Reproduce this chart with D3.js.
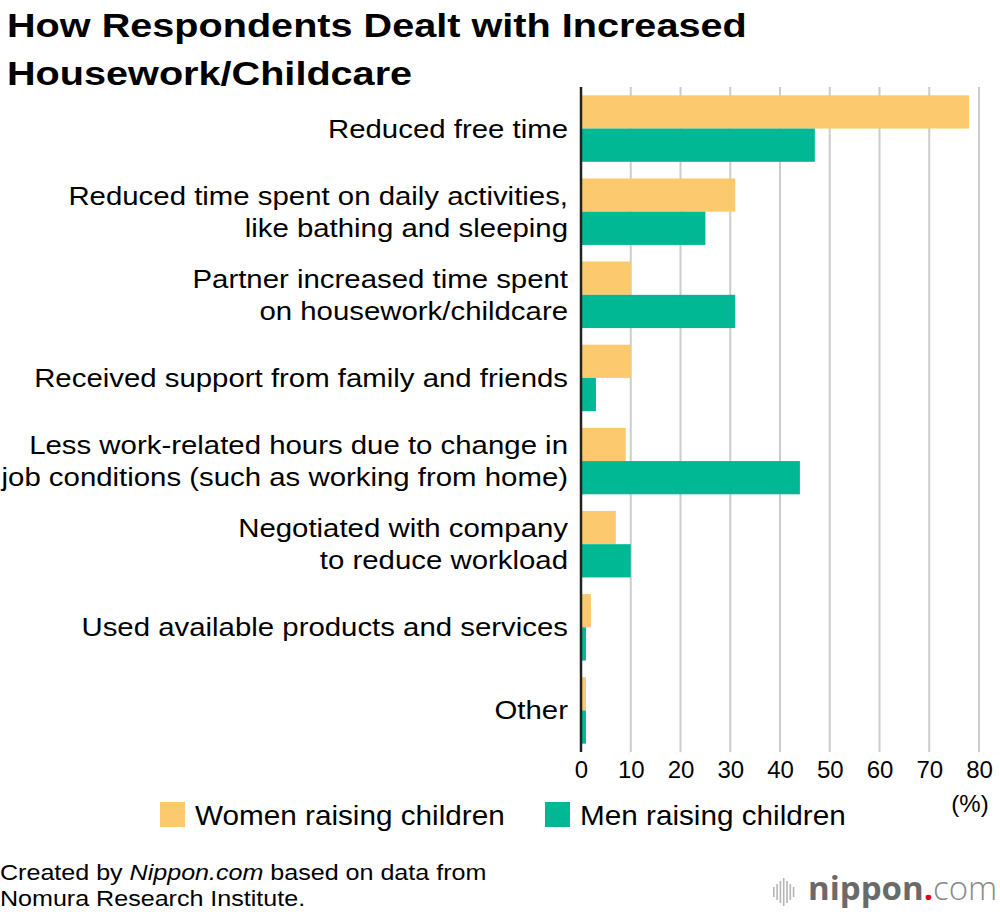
<!DOCTYPE html>
<html>
<head>
<meta charset="utf-8">
<script src="https://cdn.jsdelivr.net/npm/d3@7"></script>
<style>
  body { margin: 0; background: #fff; }
  svg { font-family: "Liberation Sans", Arial, sans-serif; }
</style>
</head>
<body>
<div id="chart"></div>
<script>
const categories = [
  ['Reduced free time'],
  ['Reduced time spent on daily activities,', 'like bathing and sleeping'],
  ['Partner increased time spent', 'on housework/childcare'],
  ['Received support from family and friends'],
  ['Less work-related hours due to change in', 'job conditions (such as working from home)'],
  ['Negotiated with company', 'to reduce workload'],
  ['Used available products and services'],
  ['Other']
];
const women = [78, 31, 10, 10, 9, 7, 2, 1];
const men = [47, 25, 31, 3, 44, 10, 1, 1];
const ticks = [0, 10, 20, 30, 40, 50, 60, 70, 80];
const seriesNames = ['Women raising children', 'Men raising children'];
const colors = ['#FDC96E', '#00B894'];

const W = 1000, H = 918;
const svg = d3.select('#chart').append('svg').attr('width', W).attr('height', H);

const x = d3.scaleLinear().domain([0, 80]).range([581, 979]);
const y = d3.scaleBand().domain(d3.range(categories.length)).range([87, 752])
  .paddingInner(0.2).paddingOuter(0.1);
const half = y.bandwidth() / 2;

// the original type is a wide Helvetica, so stretch text horizontally
const wide = (px, sx) => `translate(${px},0) scale(${sx},1)`;

// title
const title = svg.append('g').attr('transform', wide(7, 1.166));
['How Respondents Dealt with Increased', 'Housework/Childcare'].forEach((t, i) => {
  title.append('text').attr('x', 0).attr('y', 37 + i * 48)
    .style('font-size', '34px').style('font-weight', 'bold')
    .text(t);
});

// grid
svg.append('g').selectAll('line').data(ticks.slice(1)).enter().append('line')
  .attr('x1', d => x(d)).attr('x2', d => x(d))
  .attr('y1', 87).attr('y2', 752)
  .attr('stroke', '#ccc').attr('stroke-width', 2);

// bars
const rows = svg.append('g').selectAll('g').data(categories).enter().append('g');
rows.append('rect')
  .attr('x', x(0)).attr('y', (d, i) => y(i))
  .attr('width', (d, i) => x(women[i]) - x(0)).attr('height', half)
  .attr('fill', colors[0]);
rows.append('rect')
  .attr('x', x(0)).attr('y', (d, i) => y(i) + half)
  .attr('width', (d, i) => x(men[i]) - x(0)).attr('height', half)
  .attr('fill', colors[1]);

// category labels
rows.append('g').attr('transform', wide(568, 1.13))
  .append('text')
  .attr('text-anchor', 'end')
  .style('font-size', '26px')
  .each(function (d, i) {
    const cy = y(i) + half;
    const t = d3.select(this);
    d.forEach((line, j) => {
      t.append('tspan').attr('x', 0)
        .attr('y', cy + 9 + (j - (d.length - 1) / 2) * 32)
        .text(line);
    });
  });

// zero line
svg.append('line').attr('x1', x(0)).attr('x2', x(0)).attr('y1', 87).attr('y2', 752)
  .attr('stroke', '#222').attr('stroke-width', 2.5);

// x axis labels
const xAxis = svg.append('g').attr('transform', 'translate(0,752)')
  .call(d3.axisBottom(x).tickValues(ticks).tickSize(0).tickPadding(9));
xAxis.select('.domain').remove();
xAxis.selectAll('text').style('font-size', '24px')
  .style('font-family', '"Liberation Sans", Arial, sans-serif').attr('fill', '#000');

svg.append('text').attr('x', 970).attr('y', 812).attr('text-anchor', 'middle')
  .style('font-size', '24px').text('(%)');

// legend
const legendX = [160, 545];
seriesNames.forEach((n, i) => {
  svg.append('rect').attr('x', legendX[i]).attr('y', 802).attr('width', 25).attr('height', 25)
    .attr('fill', colors[i]);
  svg.append('g').attr('transform', wide(i === 0 ? 195 : 580, 1.1))
    .append('text').attr('x', 0).attr('y', 825)
    .style('font-size', '27px').text(n);
});

// source
const srcG = svg.append('g').attr('transform', wide(0, 1.14));
const src = srcG.append('text').attr('x', 0).attr('y', 880).style('font-size', '22px');
src.append('tspan').text('Created by ');
src.append('tspan').style('font-style', 'italic').text('Nippon.com');
src.append('tspan').text(' based on data from');
srcG.append('text').attr('x', 0).attr('y', 906).style('font-size', '22px')
  .text('Nomura Research Institute.');

// logo
const logo = svg.append('g');
const barsH = [10, 16, 22, 28, 22, 16, 10];
logo.selectAll('rect').data(barsH).enter().append('rect')
  .attr('x', (d, i) => 773 + i * 3.3).attr('y', d => 892 - d / 2)
  .attr('width', 1.6).attr('height', d => d).attr('fill', '#b5b5b5');
const lt = logo.append('text').attr('x', 808).attr('y', 900)
  .style('font-family', '"Open Sans", sans-serif')
  .style('font-size', '33px').attr('fill', '#6a6a6a');
lt.append('tspan').style('font-weight', 'bold').text('nippon');
lt.append('tspan').attr('fill', '#e60012').style('font-weight', 'bold').text('.');
lt.append('tspan').attr('fill', '#8a8a8a').style('font-weight', '300').text('com');
</script>
</body>
</html>
